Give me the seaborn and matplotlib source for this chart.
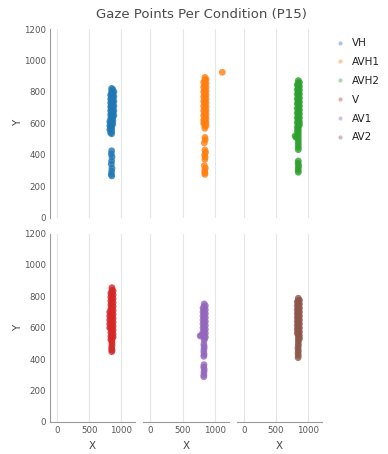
import matplotlib
matplotlib.use("Agg")
import matplotlib.pyplot as plt
import seaborn as sns
import pandas as pd
from matplotlib.lines import Line2D

conditions = ["VH", "AVH1", "AVH2", "V", "AV1", "AV2"]

# Gaze samples (screen pixels) per condition
vh_x = ([850] * 18 + [868] * 12 + [885] * 6 + [835] * 11 + [822] * 3
        + [850, 845, 855, 850, 845, 855, 850, 845, 852])
vh_y = [822, 805, 788, 771, 754, 737, 720, 703, 686, 669, 652, 635, 618, 601, 584, 567, 550, 533,
        815, 795, 775, 755, 735, 715, 695, 675, 655, 635, 615, 595,
        800, 770, 740, 710, 680, 650,
        780, 755, 730, 705, 680, 655, 630, 605, 580, 560, 540,
        610, 585, 560,
        425, 405, 385, 360, 340, 315, 295, 275, 265]

avh1_x = ([848] * 19 + [866] * 13 + [830] * 10
          + [850, 853, 840, 850, 858, 845, 852, 848, 840, 855, 845, 850, 848] + [1120])
avh1_y = [892, 874, 856, 838, 820, 802, 784, 766, 748, 730, 712, 694, 676, 658, 640, 622, 604, 586, 568,
          880, 855, 830, 805, 780, 755, 730, 705, 680, 655, 630, 605, 585,
          860, 830, 800, 770, 740, 710, 680, 650, 620, 600,
          510, 495, 475, 430, 415, 400, 385, 370, 330, 315, 300, 285, 275,
          925]

avh2_x = ([850] * 27 + [868] * 12 + [834] * 11 + [800, 815]
          + [850, 846, 854, 850, 848, 850])
avh2_y = [872, 855, 838, 821, 804, 787, 770, 753, 736, 719, 702, 685, 668, 651, 634, 617, 600,
          583, 566, 549, 532, 515, 498, 481, 464, 447, 432,
          860, 835, 810, 785, 760, 735, 710, 685, 660, 635, 610, 590,
          845, 815, 785, 755, 725, 695, 665, 635, 605, 575, 550,
          520, 510,
          360, 345, 330, 315, 300, 288]

v_x = [855] * 22 + [873] * 13 + [838] * 13 + [820] * 5 + [855, 850, 856, 852]
v_y = [855, 838, 821, 804, 787, 770, 753, 736, 719, 702, 685, 668, 651, 634, 617, 600,
       583, 566, 549, 532, 515, 500,
       835, 810, 785, 760, 735, 710, 685, 660, 635, 610, 585, 560, 540,
       820, 795, 770, 745, 720, 695, 670, 645, 620, 595, 570, 545, 525,
       700, 675, 650, 625, 600,
       485, 470, 458, 448]

av1_x = ([838] * 15 + [856] * 9 + [820] * 8 + [790, 775]
         + [832, 838, 835, 832, 836, 832, 835, 830, 838, 835, 833, 832])
av1_y = [752, 735, 718, 701, 684, 667, 650, 633, 616, 599, 582, 565, 548, 531, 520,
         740, 715, 690, 665, 640, 615, 590, 565, 540,
         725, 700, 675, 650, 625, 600, 575, 555,
         552, 548,
         495, 480, 465, 448, 430, 418, 365, 350, 335, 318, 300, 288]

av2_x = [850] * 19 + [868] * 11 + [834] * 9 + [845, 850, 846, 849, 847]
av2_y = [788, 771, 754, 737, 720, 703, 686, 669, 652, 635, 618, 601, 584, 567, 550, 533, 516, 499, 485,
         775, 750, 725, 700, 675, 650, 625, 600, 575, 550, 530,
         765, 740, 715, 690, 665, 640, 615, 590, 565,
         470, 455, 440, 425, 410]

xs = [vh_x, avh1_x, avh2_x, v_x, av1_x, av2_x]
ys = [vh_y, avh1_y, avh2_y, v_y, av1_y, av2_y]

df = pd.concat(
    [pd.DataFrame({"X": x, "Y": y, "Condition": c}) for c, x, y in zip(conditions, xs, ys)],
    ignore_index=True,
)

sns.set_theme(style="white")
plt.rcParams["font.family"] = ["DejaVu Sans"]

palette = dict(zip(conditions, sns.color_palette("tab10", 6)))

g = sns.relplot(
    data=df, x="X", y="Y", col="Condition", col_wrap=3, col_order=conditions,
    hue="Condition", hue_order=conditions, palette=palette,
    kind="scatter", s=24, alpha=0.8, edgecolor="none", linewidth=0,
    legend=False, height=2, aspect=1, facet_kws=dict(sharex=True, sharey=True),
)
fig = g.figure
fig.set_size_inches(3.88, 4.54)
fig.subplots_adjust(left=0.129, right=0.830, top=0.936, bottom=0.0705,
                    wspace=0.094, hspace=0.085)

g.set(xlim=(-110, 1220), ylim=(0, 1200), xticks=[0, 500, 1000],
      yticks=[0, 200, 400, 600, 800, 1000, 1200])
g.set_titles("")

for i, ax in enumerate(g.axes.flat):
    ax.grid(axis="x", color="#e6e6e6", linewidth=0.8)
    ax.grid(axis="y", visible=False)
    ax.set_axisbelow(True)
    ax.tick_params(length=0, labelsize=6.2, labelcolor="#555555", pad=3)
    for side in ("top", "right"):
        ax.spines[side].set_visible(False)
    for side in ("left", "bottom"):
        ax.spines[side].set_color("#9a9a9a")
        ax.spines[side].set_linewidth(0.8)
    if i < 3:
        ax.spines["bottom"].set_visible(False)
        ax.set_xlabel("")
    else:
        ax.set_xlabel("X", fontsize=7.5, color="#444444", labelpad=4)
    if i % 3 != 0:
        ax.spines["left"].set_visible(False)
        ax.set_ylabel("")
    else:
        ax.set_ylabel("Y", fontsize=7.5, color="#444444", labelpad=0.5)

fig.suptitle("Gaze Points Per Condition (P15)", x=0.52, y=0.982,
             fontsize=9.5, color="#4a4a4a")

handles = [Line2D([], [], marker="o", linestyle="", markersize=3,
                  markerfacecolor=palette[c], markeredgecolor="none", alpha=0.4)
           for c in conditions]
leg = fig.legend(handles, conditions, loc="upper left", bbox_to_anchor=(0.855, 0.925),
                 frameon=False, fontsize=7.5, labelspacing=0.85, handletextpad=0.7,
                 handlelength=0.8, borderaxespad=0)
for t in leg.get_texts():
    t.set_color("#222222")

fig.savefig("out.png", dpi=100)
